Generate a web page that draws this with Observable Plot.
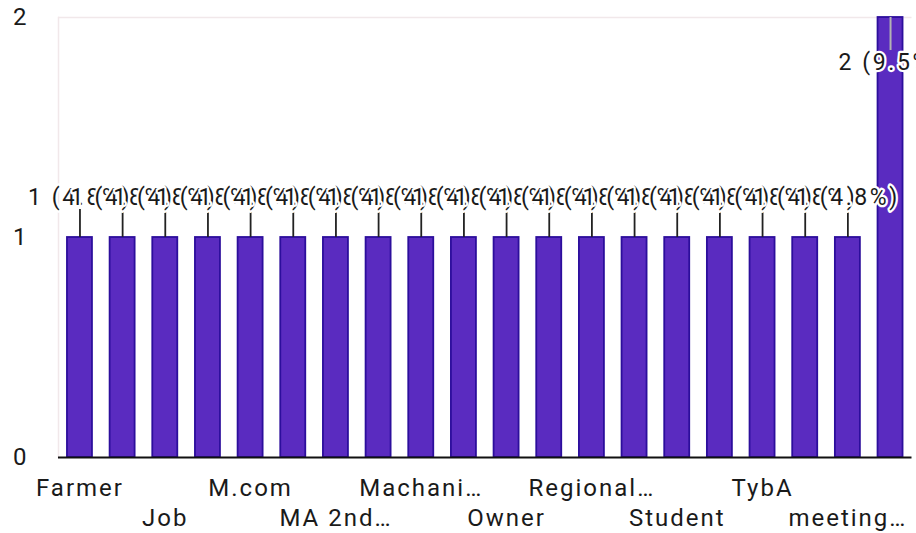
<!DOCTYPE html>
<html>
<head>
<meta charset="utf-8">
<script src="https://cdn.jsdelivr.net/npm/d3@7"></script>
<script src="https://cdn.jsdelivr.net/npm/@observablehq/plot@0.6"></script>
<style>
  html, body { margin: 0; padding: 0; background: #fff; }
  #chart svg { overflow: hidden; }
  #chart svg text { letter-spacing: 2px; }
  #chart g[aria-label="text"] text { letter-spacing: 2.6px; }
</style>
</head>
<body>
<div id="chart"></div>
<script>
// Categories (alphabetical, as in the source). Only every other one is labelled.
const categories = ["Farmer","Housewife","Job","Labour","M.com","M.sc","MA 2nd…","MA English",
  "Machani…","Nurse","Owner","Police","Regional…","Shopkeeper","Student","Teacher",
  "TybA","Worker","meeting…","student"];
const counts = [1,1,1,1,1,1,1,1,1,1,1,1,1,1,1,1,1,1,1,2];
const row1Labels = ["Farmer","M.com","Machani…","Regional…","TybA"];
const row2Labels = ["Job","MA 2nd…","Owner","Student","meeting…"];
const yTicks = [0, 1, 2];

const total = d3.sum(counts);
const maxCount = d3.max(counts);
const data = categories.map((c, i) => ({
  cat: c,
  value: counts[i],
  label: `${counts[i]} (${(counts[i] / total * 100).toFixed(1)}%)`
}));
const lowBars = data.filter(d => d.value < maxCount);
const topBars = data.filter(d => d.value === maxCount);

const ink = "#1a1a1a";
const faint = "#f1e8ea";

const chart = Plot.plot({
  width: 916,
  height: 533,
  marginLeft: 58,
  marginRight: 4.5,
  marginTop: 17,
  marginBottom: 76,
  style: { fontFamily: "Roboto", background: "#fff", color: ink },
  x: { domain: categories, paddingInner: 0.414, paddingOuter: 0.21, round: false, axis: null },
  y: { domain: [0, 2], axis: null },
  marks: [
    Plot.frame({ anchor: "left", stroke: faint, strokeWidth: 1.5 }),
    Plot.ruleY([2], { stroke: faint, strokeWidth: 1.5 }),
    Plot.barY(data, { x: "cat", y: "value", fill: "#5a2bc0", stroke: "#2c0e9c", strokeWidth: 1.8 }),
    Plot.ruleY([0], { stroke: "#111", strokeWidth: 2 }),
    Plot.axisY(yTicks, { label: null, tickSize: 0, tickPadding: 30, fontSize: 24, fill: ink, tickFormat: d => d }),
    Plot.axisX(row1Labels, { label: null, tickSize: 0, tickPadding: 21, fontSize: 24, fill: ink }),
    Plot.axisX(row2Labels, { label: null, tickSize: 0, tickPadding: 51, fontSize: 24, fill: ink }),
    Plot.ruleX(lowBars, { x: "cat", y1: "value", y2: "value", insetTop: -28, insetBottom: 0, stroke: "#222", strokeWidth: 1.8 }),
    Plot.ruleX(topBars, { x: "cat", y1: "value", y2: "value", insetTop: 0, insetBottom: -33, stroke: "#b3b3b3", strokeWidth: 2 }),
    Plot.text(lowBars, { x: "cat", y: "value", text: "label", dy: -40, fontSize: 23, fill: ink, stroke: "white", strokeWidth: 4.5 }),
    Plot.text(topBars, { x: "cat", y: "value", text: "label", dy: 45, fontSize: 23, fill: ink, stroke: "white", strokeWidth: 4.5 })
  ]
});
document.getElementById("chart").appendChild(chart);
</script>
</body>
</html>
